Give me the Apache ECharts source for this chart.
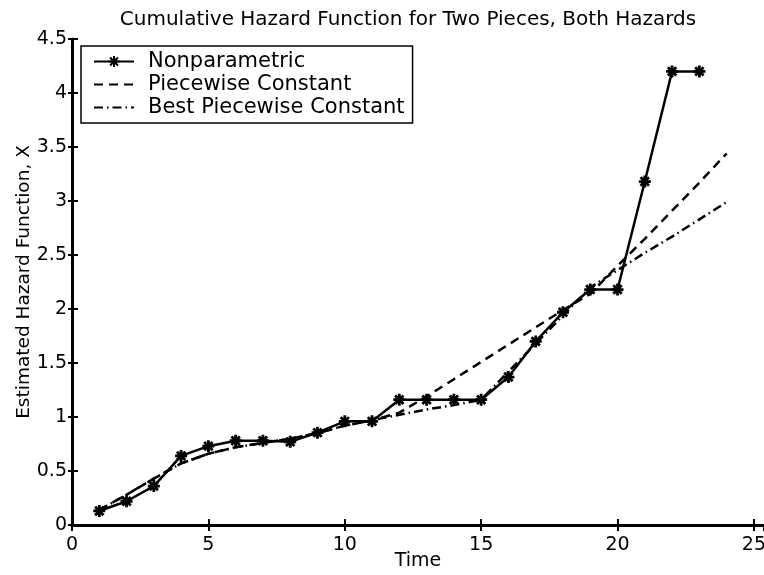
<!DOCTYPE html>
<html>
<head>
<meta charset="utf-8">
<script src="https://cdn.jsdelivr.net/npm/echarts@6/dist/echarts.min.js"></script>
<style>html,body{margin:0;padding:0;background:#fff;}#chart{width:764px;height:575px;}</style>
</head>
<body>
<div id="chart"></div>
<script>
const titleText = 'Cumulative Hazard Function for Two Pieces, Both Hazards';
const xName = 'Time';
const yName = 'Estimated Hazard Function, X';
const obsTimes = [1,2,3,4,5,6,7,8,9,10,11,12,13,14,15,16,17,18,19,20,21,22,23];
const nonparametric = [0.13,0.22,0.36,0.64,0.73,0.78,0.78,0.77,0.855,0.96,0.96,1.16,1.16,1.16,1.16,1.37,1.70,1.97,2.18,2.18,3.18,4.20,4.20];
const fitTimes = [1,2,3,4,5,6,7,8,9,10,11,12,13,14,15,16,17,18,19,20,21,22,23,24];
const piecewiseConstant = [0.14,0.28,0.43,0.57,0.66,0.72,0.76,0.80,0.85,0.92,0.97,1.04,1.19,1.35,1.51,1.67,1.83,1.99,2.14,2.40,2.65,2.91,3.17,3.44];
const bestPiecewise = [0.14,0.28,0.43,0.57,0.66,0.72,0.76,0.80,0.85,0.92,0.97,1.02,1.07,1.11,1.16,1.42,1.68,1.94,2.20,2.36,2.52,2.67,2.83,2.99];
const xTicks = [0,5,10,15,20,25];
const yTicks = [0,0.5,1,1.5,2,2.5,3,3.5,4,4.5];

const FONT = 'DejaVu Sans';
const pair = (xs, ys) => xs.map((x, i) => [x, ys[i]]);
const star = 'path://M5 0 L5 10 M0 5 L10 5 M1.5 1.5 L8.5 8.5 M1.5 8.5 L8.5 1.5';

const chart = echarts.init(document.getElementById('chart'), null, {renderer: 'canvas'});
const tickStyle = {show: true, inside: true, length: 6, lineStyle: {color: '#000', width: 2}};
const lineOn = {show: true, lineStyle: {color: '#000', width: 3}};
chart.setOption({
  backgroundColor: '#fff',
  animation: false,
  title: {
    text: titleText, left: 403, top: 5, textAlign: 'center',
    textStyle: {fontFamily: FONT, fontSize: 20, fontWeight: 'normal', color: '#000'}
  },
  grid: {left: 72, right: 0, top: 39, bottom: 50, containLabel: false, outerBoundsMode: 'none'},
  legend: {
    left: 81, top: 46, orient: 'vertical',
    backgroundColor: '#fff', borderColor: '#000', borderWidth: 1.5,
    padding: [4, 8, 4, 12], itemGap: 0, itemWidth: 40, itemHeight: 14,
    textStyle: {fontFamily: FONT, fontSize: 21, color: '#000', lineHeight: 23, padding: [0, 0, 0, 9]},
    data: ['Nonparametric', 'Piecewise Constant', 'Best Piecewise Constant']
  },
  xAxis: [
    {
      type: 'value', min: 0, max: 25.37, interval: 5, position: 'bottom',
      axisLine: lineOn, axisTick: tickStyle, splitLine: {show: false},
      name: xName, nameLocation: 'middle', nameGap: 27, nameMoveOverlap: false,
      nameTextStyle: {fontFamily: FONT, fontSize: 19, color: '#000'},
      axisLabel: {show: true, margin: 11, showMaxLabel: false, fontFamily: FONT, fontSize: 19, color: '#000',
        formatter: v => xTicks.includes(v) ? String(v) : ''}
    },
    {
      type: 'value', min: 0, max: 25.37, interval: 5, position: 'top',
      axisLine: lineOn, axisTick: tickStyle, splitLine: {show: false},
      axisLabel: {show: false}
    }
  ],
  yAxis: [
    {
      type: 'value', min: 0, max: 4.5, interval: 0.5, position: 'left',
      axisLine: lineOn, axisTick: tickStyle, splitLine: {show: false},
      name: yName, nameLocation: 'middle', nameGap: 38, nameRotate: 90, nameMoveOverlap: false,
      nameTextStyle: {fontFamily: FONT, fontSize: 18.5, color: '#000'},
      axisLabel: {show: true, margin: 5, fontFamily: FONT, fontSize: 19, color: '#000',
        formatter: v => yTicks.includes(v) ? String(v) : ''}
    },
    {
      type: 'value', min: 0, max: 4.5, interval: 0.5, position: 'right',
      axisLine: {show: false}, axisTick: {show: true, inside: true, length: 4, lineStyle: {color: '#000', width: 2}},
      splitLine: {show: false}, axisLabel: {show: false}
    }
  ],
  series: [
    {
      name: 'Nonparametric', type: 'line', xAxisIndex: 0, yAxisIndex: 0,
      data: pair(obsTimes, nonparametric),
      symbol: star, symbolSize: 12, showAllSymbol: true,
      itemStyle: {color: '#000', borderColor: '#000', borderWidth: 2.8},
      lineStyle: {color: '#000', width: 2.5}, z: 5
    },
    {
      name: 'Piecewise Constant', type: 'line', xAxisIndex: 0, yAxisIndex: 0,
      data: pair(fitTimes, piecewiseConstant), showSymbol: false,
      itemStyle: {color: '#000', opacity: 0},
      lineStyle: {color: '#000', width: 2.5, type: [9, 6], opacity: 1}, z: 3
    },
    {
      name: 'Best Piecewise Constant', type: 'line', xAxisIndex: 0, yAxisIndex: 0,
      data: pair(fitTimes, bestPiecewise), showSymbol: false,
      itemStyle: {color: '#000', opacity: 0},
      lineStyle: {color: '#000', width: 2.5, type: [9, 4, 1.5, 4], opacity: 1}, z: 3
    }
  ]
});
</script>
</body>
</html>
